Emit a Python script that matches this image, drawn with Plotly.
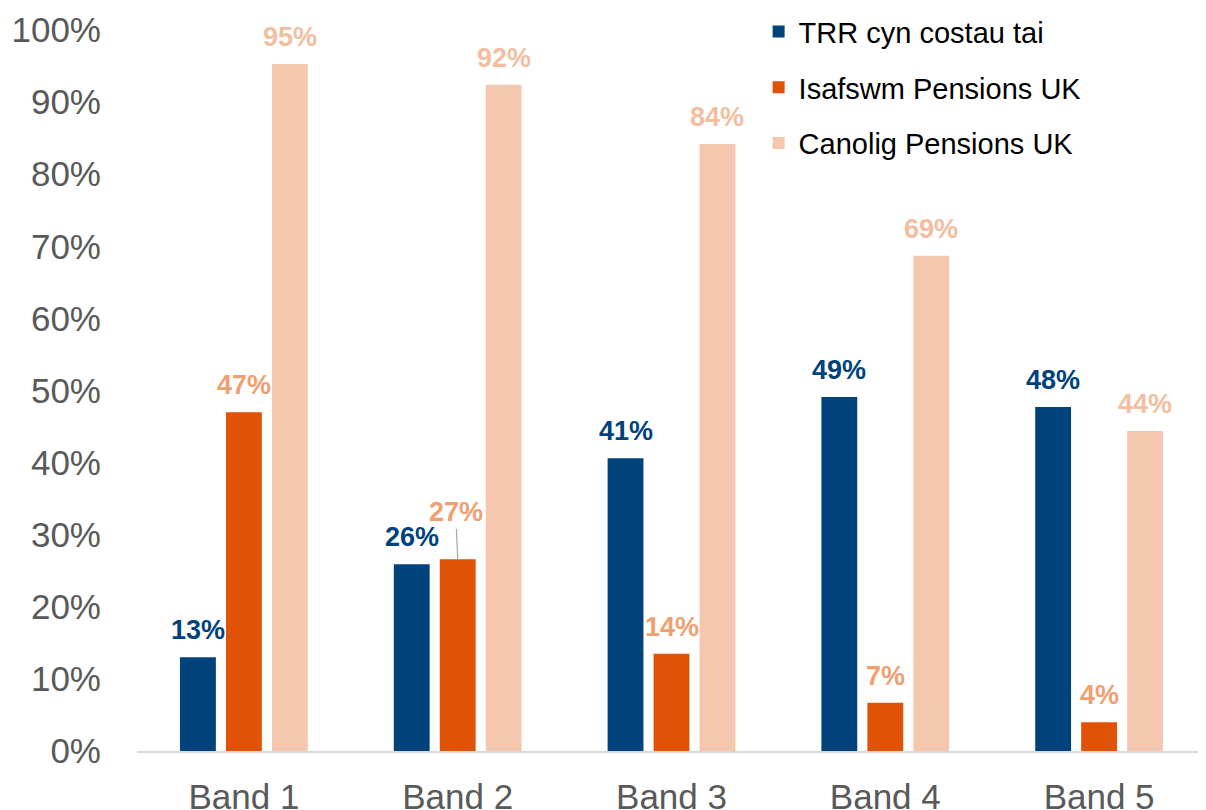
import plotly.graph_objects as go

bands = ["Band 1", "Band 2", "Band 3", "Band 4", "Band 5"]
trr = [13.0, 25.9, 40.6, 49.1, 47.7]
isafswm = [47.0, 26.6, 13.5, 6.7, 4.0]
canolig = [95.3, 92.4, 84.2, 68.7, 44.4]

names = ["TRR cyn costau tai", "Isafswm Pensions UK", "Canolig Pensions UK"]
bar_colors = ["#00437C", "#E05206", "#F5C7AF"]
label_colors = ["#00437C", "#F0A070", "#F3BE9F"]

# page body adds 8px offset, so margins are shifted back
plot_w = 1069
bargap = 0.355
slot = plot_w / len(bands) * (1 - bargap) / 3

fig = go.Figure()
for i, (name, vals) in enumerate(zip(names, [trr, isafswm, canolig])):
    fig.add_trace(go.Bar(
        x=bands, y=vals, name=name,
        marker=dict(color=bar_colors[i], line=dict(width=0)),
        legendgroup=name,
    ))
    for j, v in enumerate(vals):
        lab = dict(
            x=bands[j], y=v, xref="x", yref="y",
            text="<b>%d%%</b>" % round(v),
            font=dict(family="Arial, Liberation Sans", size=27, color=label_colors[i]),
            xshift=(i - 1) * slot,
        )
        if i == 1 and j == 1:
            # Band 2 label pulled up with a leader line
            lab.update(showarrow=True, arrowhead=0, arrowwidth=1.2,
                       arrowcolor="#A6A6A6", ax=-2, ay=-47, standoff=0)
        else:
            lab.update(showarrow=False, yanchor="bottom", yshift=10)
        fig.add_annotation(**lab)

fig.update_layout(
    width=1206, height=810,
    paper_bgcolor="white", plot_bgcolor="white",
    margin=dict(l=129, r=8, t=22, b=67, autoexpand=False),
    barmode="group", bargap=bargap, bargroupgap=0.22,
    font=dict(family="Arial, Liberation Sans", color="#595959"),
    legend=dict(
        x=0.5815, y=1.033, xanchor="left", yanchor="top",
        font=dict(size=29, color="black"),
        tracegroupgap=15, itemwidth=30,
        bgcolor="rgba(0,0,0,0)",
    ),
    xaxis=dict(
        tickfont=dict(size=35, color="#595959"),
        showline=True, linecolor="#D9D9D9", linewidth=2,
        ticks="", automargin=False, ticklabelstandoff=14,
    ),
    yaxis=dict(
        range=[0, 100], dtick=10, ticksuffix="%",
        tickfont=dict(size=35, color="#595959"),
        showgrid=False, zeroline=False, showline=False,
        ticklabelstandoff=35, automargin=False,
    ),
)

fig.write_html("out.html")
